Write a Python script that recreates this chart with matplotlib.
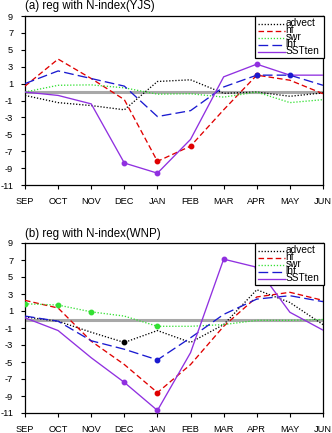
import matplotlib
matplotlib.use("Agg")
import matplotlib.pyplot as plt
from matplotlib.patches import Rectangle

plt.rcParams['font.family'] = ['Liberation Sans', 'DejaVu Sans']
plt.rcParams['lines.scale_dashes'] = False

months = ["SEP", "OCT", "NOV", "DEC", "JAN", "FEB", "MAR", "APR", "MAY", "JUN"]
yticks = [-11, -9, -7, -5, -3, -1, 1, 3, 5, 7, 9]
series_names = ["advect", "hf", "swr", "lhf", "SSTten"]

# Panel (a): reg with N-index(YJS)
a_advect = [-0.4, -1.25, -1.6, -2.1, 1.25, 1.45, -0.15, 0.0, -0.5, -0.1]
a_hf     = [0.7, 3.9, 1.6, -0.9, -8.2, -6.4, -2.1, 2.0, 1.4, -0.2]
a_swr    = [0.0, 0.8, 0.85, 0.5, -0.25, -0.2, -0.6, 0.0, -1.25, -0.9]
a_lhf    = [1.0, 2.5, 1.6, 0.7, -2.9, -2.2, 0.6, 2.0, 2.0, 0.8]
a_sst    = [0.0, -0.4, -1.4, -8.4, -9.6, -5.6, 1.8, 3.3, 2.0, 2.0]
# significant points (month indices) per series
a_sig = {"advect": [], "hf": [4, 5, 7], "swr": [], "lhf": [7, 8], "SSTten": [3, 4, 7]}

# Panel (b): reg with N-index(WNP)
b_advect = [0.3, -0.2, -1.5, -2.7, -1.3, -2.7, -0.6, 3.5, 2.0, -0.6]
b_hf     = [2.25, 1.35, -2.55, -5.3, -8.6, -5.3, -0.8, 2.65, 3.2, 2.25]
b_swr    = [1.85, 1.7, 0.9, 0.4, -0.8, -0.8, -0.6, -0.1, -0.1, 0.0]
b_lhf    = [0.4, -0.2, -2.5, -3.5, -4.75, -2.15, 0.6, 2.4, 2.8, 2.1]
b_sst    = [0.2, -1.3, -4.5, -7.4, -10.7, -3.9, 7.1, 6.15, 0.85, -1.25]
b_sig = {"advect": [3], "hf": [4], "swr": [0, 1, 2, 4], "lhf": [4], "SSTten": [3, 4, 6, 7]}

styles = {
    "advect": dict(color="black", dashes=(0.9, 1.3)),
    "hf":     dict(color="#e00000", dashes=(4.0, 2.2)),
    "swr":    dict(color="#33e033", dashes=(0.9, 1.3)),
    "lhf":    dict(color="#1a1ad0", dashes=(7.0, 3.0)),
    "SSTten": dict(color="#9030e0", dashes=None),
}

W, H = 332, 433
fig = plt.figure(figsize=(W / 100, H / 100), dpi=100)

def make_axes(top_px, bot_px, left_px=25, right_px=323):
    return fig.add_axes([left_px / W, 1 - bot_px / H, (right_px - left_px) / W, (bot_px - top_px) / H])

def draw_panel(ax, data, sig, title, top_px, bot_px):
    x = list(range(len(months)))
    ax.axhline(0, color="#a8a8a8", lw=2.2, zorder=1)
    for name, vals in zip(series_names, data):
        st = styles[name]
        ln, = ax.plot(x, vals, color=st["color"], lw=0.95, zorder=3)
        if st["dashes"] is not None:
            ln.set_dashes(st["dashes"])
        idx = sig[name]
        if idx:
            ax.plot([x[i] for i in idx], [vals[i] for i in idx], 'o', color=st["color"],
                    ms=3.2, zorder=4, linestyle='none')
    ax.set_xlim(0, 9)
    ax.set_ylim(-11, 9)
    ax.set_xticks(x)
    ax.set_xticklabels(months)
    ax.set_yticks(yticks)
    ax.set_yticklabels([str(v) for v in yticks])
    ax.tick_params(direction="out", length=3, width=0.8, labelsize=6.7, pad=5.5)
    for sp in ax.spines.values():
        sp.set_linewidth(0.9)
    fig.text(25 / W, 1 - (top_px - 9.5) / H, title, fontsize=8.3, ha="left", va="center")

    # legend box (manual, NCL-like)
    hpx = bot_px - top_px
    wpx = 298
    def ax_x(px):
        return (px - 25) / wpx
    def ax_y(off):
        return 1 - off / hpx
    ax.add_patch(Rectangle((ax_x(255), ax_y(42)), ax_x(323.5) - ax_x(255), ax_y(0) - ax_y(42),
                           transform=ax.transAxes, facecolor="white", edgecolor="black",
                           lw=0.9, zorder=6, clip_on=False))
    offs = [7.5, 14.5, 21.5, 28.5, 35.5]
    for name, off in zip(series_names, offs):
        st = styles[name]
        ln, = ax.plot([ax_x(258), ax_x(285)], [ax_y(off), ax_y(off)], transform=ax.transAxes,
                      color=st["color"], lw=0.95, zorder=7, clip_on=False)
        if st["dashes"] is not None:
            ln.set_dashes(st["dashes"])
        ax.text(ax_x(285.5), ax_y(off - 0.5), name, transform=ax.transAxes, fontsize=7.3,
                ha="left", va="center", zorder=8)

ax1 = make_axes(16, 185)
draw_panel(ax1, [a_advect, a_hf, a_swr, a_lhf, a_sst], a_sig, "(a) reg with N-index(YJS)", 16, 185)
ax2 = make_axes(243, 413)
draw_panel(ax2, [b_advect, b_hf, b_swr, b_lhf, b_sst], b_sig, "(b) reg with N-index(WNP)", 243, 413)

fig.savefig("out.png", dpi=100)
